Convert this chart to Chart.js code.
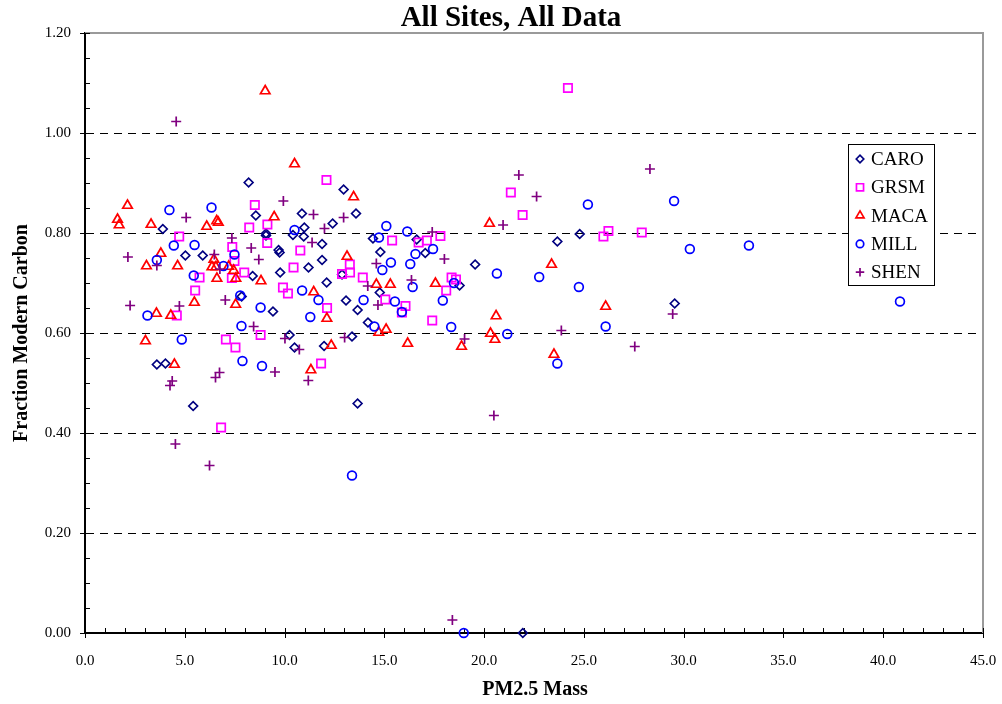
<!DOCTYPE html>
<html lang="en">
<head>
<meta charset="UTF-8">
<title>All Sites, All Data</title>
<style>
  html, body { margin: 0; padding: 0; background: #fff; }
  #wrap { width: 1002px; height: 704px; }
  canvas { display: block; }
</style>
</head>
<body>
<div id="wrap"><canvas id="chart" width="1002" height="704"></canvas></div>
<script src="https://cdn.jsdelivr.net/npm/chart.js"></script>
<script>
// PM2.5 mass (x) and fraction modern carbon (y) for each site
const caroX = [3.9, 5.03, 5.9, 3.6, 4.03, 5.42, 8.2, 8.56, 9.07, 9.07, 9.7, 9.75, 9.78, 8.4, 7.85, 9.42,
  10.25, 10.5, 10.42, 10.87, 10.99, 10.96, 11.88, 11.88, 11.2, 12.11, 11.98, 12.41, 12.96, 13.58, 12.88,
  13.08, 13.66, 14.18, 13.38, 13.66, 14.43, 14.8, 14.77, 16.62, 17.05, 18.77, 19.55, 23.67, 24.79, 29.55, 21.94];
const caroY = [0.808, 0.755, 0.755, 0.537, 0.539, 0.454, 0.901, 0.835, 0.799, 0.795, 0.766, 0.761, 0.721, 0.714, 0.673, 0.643,
  0.596, 0.571, 0.796, 0.839, 0.811, 0.793, 0.778, 0.746, 0.731, 0.701, 0.574, 0.819, 0.887, 0.839, 0.717,
  0.665, 0.646, 0.621, 0.593, 0.459, 0.789, 0.762, 0.681, 0.787, 0.760, 0.695, 0.737, 0.783, 0.798, 0.659, 0.0];

const grsmX = [4.72, 5.74, 5.52, 4.6, 7.38, 7.49, 7.98, 7.36, 8.51, 8.23, 9.14, 9.13, 10.79, 10.45, 9.92, 10.17,
  12.1, 12.13, 11.83, 7.06, 7.54, 8.8, 6.82, 12.88, 13.27, 13.28, 13.92, 15.05, 15.39, 16.06, 15.88, 16.72,
  17.13, 17.81, 17.4, 18.1, 18.37, 18.59, 21.34, 21.93, 24.2, 25.98, 26.23, 27.9];
const grsmY = [0.793, 0.711, 0.685, 0.635, 0.772, 0.744, 0.721, 0.710, 0.856, 0.811, 0.817, 0.780, 0.765, 0.731, 0.691, 0.679,
  0.906, 0.650, 0.539, 0.587, 0.571, 0.596, 0.411, 0.718, 0.737, 0.721, 0.711, 0.667, 0.785, 0.654, 0.641, 0.781,
  0.785, 0.794, 0.625, 0.685, 0.711, 0.707, 0.881, 0.836, 1.09, 0.793, 0.804, 0.801];

const macaX = [1.63, 1.71, 2.13, 3.31, 3.8, 3.08, 4.64, 3.58, 4.3, 3.03, 4.48, 5.48, 6.1, 6.6, 6.68, 6.46,
  6.36, 6.56, 6.61, 7.2, 7.45, 7.56, 7.55, 9.03, 9.48, 8.82, 10.5, 11.46, 11.32, 12.12, 12.34, 13.46,
  13.13, 14.6, 15.3, 14.72, 15.09, 16.17, 17.56, 18.87, 20.27, 20.6, 20.32, 20.54, 23.38, 23.5, 26.09];
const macaY = [0.827, 0.816, 0.855, 0.817, 0.759, 0.734, 0.734, 0.639, 0.635, 0.584, 0.537, 0.661, 0.813, 0.824, 0.821, 0.747,
  0.732, 0.732, 0.709, 0.733, 0.725, 0.709, 0.657, 1.084, 0.832, 0.704, 0.938, 0.682, 0.526, 0.629, 0.575, 0.872,
  0.753, 0.697, 0.697, 0.601, 0.607, 0.579, 0.699, 0.573, 0.819, 0.634, 0.599, 0.587, 0.737, 0.557, 0.653];

const millX = [4.23, 6.34, 4.45, 5.49, 3.6, 3.13, 4.85, 5.45, 6.94, 7.49, 7.78, 7.84, 7.89, 8.8, 8.87, 10.5,
  10.88, 11.7, 11.29, 13.38, 13.96, 14.5, 15.1, 14.73, 15.33, 14.9, 15.53, 15.88, 16.15, 16.56, 16.3, 16.42,
  17.44, 17.93, 18.35, 18.49, 18.98, 20.64, 21.16, 22.76, 23.67, 24.75, 25.2, 26.09, 29.52, 30.31, 33.27, 40.84];
const millY = [0.846, 0.851, 0.775, 0.776, 0.746, 0.635, 0.587, 0.715, 0.734, 0.757, 0.675, 0.614, 0.544, 0.651, 0.534, 0.806,
  0.685, 0.666, 0.632, 0.315, 0.666, 0.613, 0.814, 0.791, 0.741, 0.726, 0.663, 0.642, 0.803, 0.758, 0.738, 0.692,
  0.768, 0.665, 0.612, 0.700, 0.0, 0.719, 0.598, 0.712, 0.539, 0.692, 0.857, 0.613, 0.864, 0.768, 0.775, 0.663];

const shenX = [2.15, 2.26, 3.6, 4.57, 5.07, 4.73, 4.37, 4.26, 4.53, 6.24, 6.54, 6.74, 6.48, 6.76, 7.36, 7.03,
  8.33, 8.71, 8.45, 9.94, 9.52, 10.02, 10.74, 11.19, 11.45, 11.38, 12.0, 12.96, 13.01, 14.17, 14.6, 14.68,
  16.36, 17.4, 18.01, 19.02, 18.41, 20.49, 20.95, 21.74, 22.63, 23.87, 27.55, 28.31, 29.45];
const shenY = [0.752, 0.655, 0.735, 1.023, 0.831, 0.654, 0.504, 0.495, 0.378, 0.335, 0.511, 0.521, 0.757, 0.728, 0.790, 0.666,
  0.770, 0.747, 0.613, 0.864, 0.522, 0.589, 0.567, 0.505, 0.837, 0.781, 0.809, 0.831, 0.591, 0.694, 0.739, 0.656,
  0.706, 0.802, 0.748, 0.588, 0.026, 0.435, 0.816, 0.916, 0.873, 0.605, 0.573, 0.928, 0.638];

const siteNames = ['CARO', 'GRSM', 'MACA', 'MILL', 'SHEN'];
const siteColors = ['#000080', '#ff00ff', '#ff0000', '#0000ff', '#800080'];
const siteStyles = ['rectRot', 'rect', 'triangle', 'circle', 'cross'];
const siteRadius = [4.4, 5.9, 5.5, 4.4, 5];

const xTicks = { min: 0, max: 45, step: 5 };
const yTicks = { min: 0, max: 1.2, step: 0.2 };

const SERIF = '"Liberation Serif", "Times New Roman", Times, serif';

function pairs(xs, ys) {
  return xs.map((x, i) => ({ x: x, y: ys[i] }));
}

const siteData = [
  pairs(caroX, caroY),
  pairs(grsmX, grsmY),
  pairs(macaX, macaY),
  pairs(millX, millY),
  pairs(shenX, shenY)
];

const datasets = siteNames.map((name, i) => ({
  label: name,
  data: siteData[i],
  pointStyle: siteStyles[i],
  pointRadius: siteRadius[i],
  pointBorderWidth: 1.7,
  borderColor: siteColors[i],
  backgroundColor: 'rgba(0,0,0,0)',
  pointBackgroundColor: 'rgba(0,0,0,0)',
  pointBorderColor: siteColors[i],
  showLine: false,
  clip: false,
  order: siteNames.length - i
}));

// frame, tick marks, legend box and titles
const decorations = {
  id: 'decorations',
  beforeDatasetsDraw(chart) {
    const ctx = chart.ctx;
    const a = chart.chartArea;
    const xs = chart.scales.x;
    const ys = chart.scales.y;
    ctx.save();
    // grey top/right frame
    ctx.strokeStyle = '#9a9a9a';
    ctx.lineWidth = 2;
    ctx.beginPath();
    ctx.moveTo(a.left, a.top);
    ctx.lineTo(a.right, a.top);
    ctx.lineTo(a.right, a.bottom);
    ctx.stroke();

    ctx.strokeStyle = '#000';
    ctx.lineWidth = 1;
    // y ticks: majors cross the axis, minors point inward
    for (let k = 0; k <= 24; k++) {
      const v = k * 0.05;
      const py = Math.round(ys.getPixelForValue(v)) + 0.5;
      const major = k % 4 === 0;
      ctx.beginPath();
      ctx.moveTo(a.left - (major ? 5 : 0), py);
      ctx.lineTo(a.left + 5, py);
      ctx.stroke();
    }
    // x ticks
    for (let k = 0; k <= 45; k++) {
      const px = Math.round(xs.getPixelForValue(k)) + 0.5;
      const major = k % 5 === 0;
      ctx.beginPath();
      ctx.moveTo(px, a.bottom - 5);
      ctx.lineTo(px, a.bottom + (major ? 5 : 0));
      ctx.stroke();
    }
    ctx.restore();
  },
  afterDatasetsDraw(chart) {
    const ctx = chart.ctx;
    const box = { left: 848, top: 144, width: 86, height: 141 };
    ctx.save();
    ctx.fillStyle = '#fff';
    ctx.fillRect(box.left, box.top, box.width, box.height);
    ctx.strokeStyle = '#000';
    ctx.lineWidth = 1;
    ctx.strokeRect(box.left + 0.5, box.top + 0.5, box.width, box.height);
    ctx.font = '19px ' + SERIF;
    ctx.textBaseline = 'middle';
    ctx.textAlign = 'left';
    chart.data.datasets.forEach((ds, i) => {
      const cy = box.top + 15 + i * 28.3;
      const cx = box.left + 12;
      ctx.save();
      ctx.strokeStyle = ds.pointBorderColor;
      ctx.fillStyle = 'rgba(0,0,0,0)';
      ctx.lineWidth = 1.7;
      Chart.helpers.drawPoint(ctx, {
        pointStyle: ds.pointStyle,
        radius: ds.pointRadius * 0.85,
        rotation: 0,
        borderWidth: 1.7
      }, cx, cy);
      ctx.restore();
      ctx.fillStyle = '#000';
      ctx.fillText(ds.label, box.left + 23, cy + 1);
    });
    ctx.restore();
  },
  afterDraw(chart) {
    const ctx = chart.ctx;
    ctx.save();
    ctx.fillStyle = '#000';
    ctx.textAlign = 'center';
    ctx.textBaseline = 'middle';
    ctx.font = 'bold 29px ' + SERIF;
    ctx.fillText('All Sites, All Data', 511, 19);
    ctx.font = 'bold 20px ' + SERIF;
    ctx.fillText('PM2.5 Mass', 535, 690);
    ctx.translate(22, 333);
    ctx.rotate(-Math.PI / 2);
    ctx.fillText('Fraction Modern Carbon', 0, 0);
    ctx.restore();
  }
};

Chart.defaults.font.family = SERIF;
Chart.defaults.color = '#000';

new Chart(document.getElementById('chart'), {
  type: 'scatter',
  data: { datasets: datasets },
  options: {
    responsive: false,
    animation: false,
    devicePixelRatio: 1,
    layout: { padding: { top: 33, right: 19, left: 0, bottom: 0 } },
    plugins: {
      legend: { display: false },
      title: { display: false },
      tooltip: { enabled: false }
    },
    scales: {
      x: {
        type: 'linear',
        min: xTicks.min,
        max: xTicks.max,
        afterFit: s => { s.height = 71; s.paddingLeft = 0; s.paddingRight = 0; },
        grid: { display: false, drawTicks: false },
        border: { display: true, color: '#000', width: 2 },
        ticks: {
          stepSize: xTicks.step,
          autoSkip: false,
          maxRotation: 0,
          padding: 19,
          font: { size: 15 },
          callback: v => Number(v).toFixed(1)
        }
      },
      y: {
        type: 'linear',
        min: yTicks.min,
        max: yTicks.max,
        afterFit: s => { s.width = 85; s.paddingTop = 0; s.paddingBottom = 0; },
        grid: {
          drawTicks: false,
          lineWidth: 1,
          color: c => (c.tick && c.tick.value > 0.01 && c.tick.value < 1.19) ? '#000' : 'rgba(0,0,0,0)'
        },
        border: { display: true, color: '#000', width: 2, dash: [8, 6] },
        ticks: {
          stepSize: yTicks.step,
          padding: 14,
          font: { size: 15 },
          callback: v => Number(v).toFixed(2)
        }
      }
    }
  },
  plugins: [decorations]
});
</script>
</body>
</html>
